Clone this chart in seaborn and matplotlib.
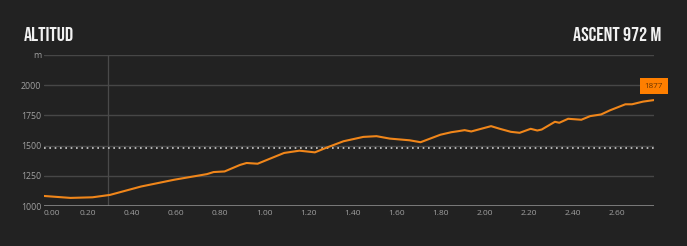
import matplotlib
matplotlib.use("Agg")
import matplotlib.pyplot as plt
import seaborn as sns
import pandas as pd

distance_km = [0.00, 0.12, 0.22, 0.30, 0.44, 0.59, 0.74, 0.77, 0.82, 0.89, 0.92, 0.97,
               1.09, 1.16, 1.23, 1.28, 1.36, 1.45, 1.51, 1.57, 1.66, 1.71, 1.80, 1.85,
               1.88, 1.91, 1.94, 2.03, 2.07, 2.12, 2.16, 2.21, 2.24, 2.26, 2.32, 2.34,
               2.38, 2.44, 2.48, 2.53, 2.57, 2.64, 2.67, 2.72, 2.77]
altitude_m = [1083, 1067, 1072, 1092, 1161, 1217, 1264, 1281, 1286, 1340, 1356, 1350,
              1439, 1458, 1444, 1481, 1536, 1572, 1578, 1558, 1544, 1528, 1590, 1611,
              1619, 1628, 1617, 1661, 1639, 1614, 1606, 1639, 1625, 1633, 1697, 1689,
              1722, 1714, 1744, 1758, 1792, 1842, 1842, 1864, 1877]
y_ticks = [1000, 1250, 1500, 1750, 2000, 2250]
y_tick_labels = ["1000", "1250", "1500", "1750", "2000", "m"]
x_ticks = [0.0, 0.2, 0.4, 0.6, 0.8, 1.0, 1.2, 1.4, 1.6, 1.8, 2.0, 2.2, 2.4, 2.6]
x_tick_labels = [f"{v:.2f}" for v in x_ticks]
title_left = "ALTITUD"
title_right = "ASCENT 972 M"
last_value = "1877"
avg_altitude = 1483
cursor_x = 0.29

df = pd.DataFrame({"distance": distance_km, "altitude": altitude_m})

sns.set_style("dark")
bg = "#222222"
plt.rcParams["font.family"] = ["Open Sans", "DejaVu Sans"]

fig = plt.figure(figsize=(6.87, 2.46), dpi=100, facecolor=bg)
ax = fig.add_axes([44 / 687, 40 / 246, 610 / 687, 151 / 246])
ax.set_facecolor(bg)

for yt in y_ticks[1:]:
    ax.axhline(yt, color="#474747", lw=1.0, zorder=1)
ax.axhline(1000, color="#8a8a8a", lw=1.2, zorder=2)
ax.axvline(cursor_x, color="#4a4a4a", lw=0.9, zorder=1)
ax.axhline(avg_altitude, color="#cfcfcf", lw=1.2, ls=(0, (1, 2.2)), zorder=2)

sns.lineplot(data=df, x="distance", y="altitude", ax=ax, color="#F0861A", lw=1.5, zorder=4)

ax.set_xlim(0, 2.77)
ax.set_ylim(1000, 2250)
ax.set_xticks(x_ticks)
ax.set_xticklabels(x_tick_labels)
ax.set_yticks(y_ticks)
ax.set_yticklabels(y_tick_labels)
ax.tick_params(axis="x", length=0, colors="#a0a0a0", labelsize=6.0, pad=3)
ax.tick_params(axis="y", length=0, colors="#a0a0a0", labelsize=6.3, pad=2)
ax.get_xticklabels()[0].set_horizontalalignment("left")
ax.set_xlabel("")
ax.set_ylabel("")
ax.grid(False)
for s in ax.spines.values():
    s.set_visible(False)

ax.annotate(last_value, xy=(distance_km[-1], altitude_m[-1]), xytext=(0, 10),
            textcoords="offset points", ha="center", va="center", fontsize=5.8,
            color="#6a3500", zorder=6, annotation_clip=False,
            bbox=dict(boxstyle="square,pad=0.55", fc="#FF7F00", ec="none"))

fig.text(24 / 687, 1 - 34 / 246, title_left, ha="left", va="center", fontsize=14.5,
         color="#f2f2f2", family=["Bebas Neue", "DejaVu Sans"])
fig.text(661 / 687, 1 - 34 / 246, title_right, ha="right", va="center", fontsize=14.5,
         color="#f2f2f2", family=["Bebas Neue", "DejaVu Sans"])

fig.savefig("out.png", dpi=100, facecolor=bg)
